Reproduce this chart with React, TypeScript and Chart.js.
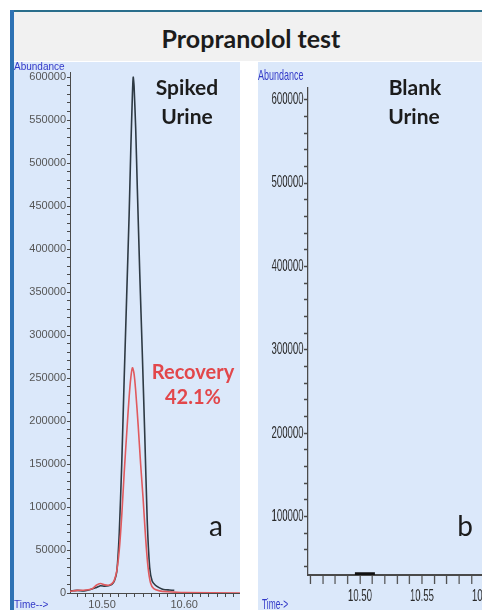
import React, { useEffect, useRef } from "react";
import { Chart, registerables } from "chart.js";

Chart.register(...registerables);

// ---- Panel a: spiked urine (black trace) ----
const spikedTime = [
  10.462, 10.47, 10.478, 10.486, 10.492, 10.498, 10.503, 10.508, 10.512, 10.515,
  10.518, 10.521, 10.524, 10.527, 10.53, 10.533, 10.535, 10.537, 10.538, 10.539,
  10.541, 10.543, 10.546, 10.549, 10.552, 10.555, 10.558, 10.561, 10.565, 10.57,
  10.575, 10.582, 10.588,
];
const spikedAbundance = [
  2500, 3000, 2500, 4000, 6000, 8500, 8000, 8500, 10000, 14000,
  25000, 70000, 150000, 250000, 345000, 440000, 515000, 580000, 600000, 590000,
  540000, 470000, 370000, 280000, 185000, 85000, 30000, 14000, 9000, 6000,
  4000, 3500, 3000,
];

// ---- Panel a: recovery (red trace) ----
const recoveryTime = [
  10.461, 10.47, 10.48, 10.488, 10.493, 10.498, 10.503, 10.508, 10.512, 10.515,
  10.518, 10.521, 10.524, 10.527, 10.53, 10.533, 10.535, 10.537, 10.539, 10.541,
  10.544, 10.547, 10.55, 10.553, 10.556, 10.559, 10.563, 10.57, 10.58, 10.6, 10.668,
];
const recoveryAbundance = [
  2000, 3000, 3500, 5000, 9000, 11000, 9500, 9000, 11000, 15000,
  26000, 50000, 90000, 140000, 185000, 228000, 250000, 262000, 255000, 235000,
  195000, 150000, 110000, 65000, 30000, 12000, 5000, 2500, 1500, 500, 0,
];

// ---- Panel b: blank urine ----
const blankTime = [10.496, 10.512];
const blankAbundance = [31500, 31500];

// ---- Tick labels ----
const spikedYLabels = [0, 50000, 100000, 150000, 200000, 250000, 300000, 350000, 400000, 450000, 500000, 550000, 600000];
const spikedTimeLabels = [10.5, 10.6];
const blankYLabels = [100000, 200000, 300000, 400000, 500000, 600000];
const blankTimeLabels = [10.5, 10.55, 10.6];

const PANEL_BG = "#dbe8fa";
const AXIS = "#4a4a4a";
const BLUE = "#3239c8";

function steps(from: number, to: number, step: number) {
  const out: number[] = [];
  const n = Math.round((to - from) / step);
  for (let i = 0; i <= n; i++) out.push(Math.round((from + i * step) * 1e6) / 1e6);
  return out;
}
const has = (list: number[], v: number) => list.some((x) => Math.abs(x - v) < 1e-7);
const pts = (xs: number[], ys: number[]) => xs.map((x, i) => ({ x, y: ys[i] }));

function leftConfig(): any {
  const font = { family: '"Liberation Sans", Arial, sans-serif', size: 11 };
  return {
    type: "scatter",
    data: {
      datasets: [
        {
          data: pts(recoveryTime, recoveryAbundance),
          showLine: true,
          borderColor: "#e05a5e",
          borderWidth: 1.6,
          pointRadius: 0,
          tension: 0.3,
        },
        {
          data: pts(spikedTime, spikedAbundance),
          showLine: true,
          borderColor: "#2e3a44",
          borderWidth: 1.6,
          pointRadius: 0,
          tension: 0.15,
        },
      ],
    },
    options: {
      animation: false,
      responsive: false,
      events: [],
      layout: { padding: { top: 10, left: 0, right: 0, bottom: 0 } },
      plugins: { legend: { display: false }, tooltip: { enabled: false } },
      scales: {
        x: {
          type: "linear",
          min: 10.461,
          max: 10.668,
          afterFit: (s: any) => { s.height = 17; },
          afterBuildTicks: (s: any) => { s.ticks = steps(10.47, 10.66, 0.01).map((value) => ({ value })); },
          ticks: {
            autoSkip: false, maxRotation: 0, minRotation: 0, padding: 1, color: "#555", font,
            callback: (v: number) => (has(spikedTimeLabels, v) ? v.toFixed(2) : ""),
          },
          grid: { drawOnChartArea: false, drawTicks: true, tickLength: 4, color: AXIS, tickColor: AXIS },
          border: { display: true, color: AXIS, width: 1 },
        },
        y: {
          type: "linear",
          min: 0,
          max: 606000,
          afterFit: (s: any) => { s.width = 56; },
          afterBuildTicks: (s: any) => { s.ticks = steps(0, 600000, 10000).map((value) => ({ value })); },
          ticks: {
            autoSkip: false, padding: 1, color: "#555", font,
            callback: (v: number) => (has(spikedYLabels, v) ? String(v) : ""),
          },
          grid: { drawOnChartArea: false, drawTicks: true, tickLength: 3, color: AXIS, tickColor: AXIS },
          border: { display: true, color: AXIS, width: 1 },
        },
      },
    },
  };
}

function rightConfig(): any {
  const font = { family: '"Liberation Sans", Arial, sans-serif', size: 16 };
  return {
    type: "scatter",
    data: {
      datasets: [
        {
          data: pts(blankTime, blankAbundance),
          showLine: true,
          borderColor: "#111",
          borderWidth: 3,
          pointRadius: 0,
        },
      ],
    },
    options: {
      animation: false,
      responsive: false,
      events: [],
      layout: { padding: { top: 26, left: 0, right: 0, bottom: 0 } },
      plugins: { legend: { display: false }, tooltip: { enabled: false } },
      scales: {
        x: {
          type: "linear",
          min: 10.4579,
          max: 10.6194,
          afterFit: (s: any) => { s.height = 35; },
          afterBuildTicks: (s: any) => { s.ticks = steps(10.46, 10.61, 0.01).map((value) => ({ value })); },
          ticks: {
            autoSkip: false, maxRotation: 0, minRotation: 0, padding: 3, color: "#2a2a2a", font,
            callback: (v: number) => (has(blankTimeLabels, v) ? v.toFixed(2) : ""),
          },
          grid: { drawOnChartArea: false, drawTicks: true, tickLength: 9, color: AXIS, tickColor: AXIS, tickWidth: 2 },
          border: { display: true, color: AXIS, width: 2 },
        },
        y: {
          type: "linear",
          min: 30000,
          max: 614000,
          afterFit: (s: any) => { s.width = 83; },
          afterBuildTicks: (s: any) => { s.ticks = steps(40000, 600000, 20000).map((value) => ({ value })); },
          ticks: {
            autoSkip: false, padding: 1, color: "#2a2a2a", font,
            callback: (v: number) => (has(blankYLabels, v) ? String(v) : ""),
          },
          grid: { drawOnChartArea: false, drawTicks: true, tickLength: 6, color: AXIS, tickColor: AXIS, tickWidth: 1.5 },
          border: { display: true, color: AXIS, width: 2 },
        },
      },
    },
  };
}

const LATO = 'Lato, "Open Sans", sans-serif';

function Word(props: { text: string; cx: number; baseline: number; size: number; bold?: boolean; color?: string }) {
  const { text, cx, baseline, size, bold, color } = props;
  return (
    <div
      style={{
        position: "absolute",
        left: cx - 120,
        width: 240,
        top: baseline - size * 0.987,
        lineHeight: `${size * 1.2}px`,
        fontSize: size,
        fontFamily: LATO,
        fontWeight: bold ? 700 : 400,
        color: color || "#1c1c1c",
        textAlign: "center",
        whiteSpace: "nowrap",
      }}
    >
      {text}
    </div>
  );
}

function Small(props: { text: string; left: number; top: number; size: number; squeeze?: number }) {
  const { text, left, top, size, squeeze } = props;
  return (
    <div
      style={{
        position: "absolute",
        left,
        top,
        fontSize: size,
        lineHeight: `${size}px`,
        fontFamily: '"Liberation Sans", Arial, sans-serif',
        color: BLUE,
        whiteSpace: "nowrap",
        transform: squeeze ? `scaleX(${squeeze})` : undefined,
        transformOrigin: "left top",
      }}
    >
      {text}
    </div>
  );
}

export default function App() {
  const leftRef = useRef<HTMLCanvasElement>(null);
  const rightRef = useRef<HTMLCanvasElement>(null);

  useEffect(() => {
    const charts: Chart[] = [];
    if (leftRef.current) charts.push(new Chart(leftRef.current, leftConfig()));
    if (rightRef.current) charts.push(new Chart(rightRef.current, rightConfig()));
    return () => charts.forEach((c) => c.destroy());
  }, []);

  return (
    <div
      style={{
        position: "fixed",
        left: 0,
        top: 0,
        width: 482,
        height: 610,
        overflow: "hidden",
        background: "#ffffff",
      }}
    >
      {/* frame */}
      <div style={{ position: "absolute", left: 10, top: 10, width: 472, height: 2, background: "#2a6e8c" }} />
      <div style={{ position: "absolute", left: 10, top: 10, width: 4, height: 600, background: "#2e72b4" }} />
      <div style={{ position: "absolute", left: 14, top: 12, width: 468, height: 49, background: "#f1f1f1" }} />
      <Word text="Propranolol test" cx={251} baseline={48} size={25} bold />

      <canvas
        ref={leftRef}
        width={226}
        height={548}
        style={{ position: "absolute", left: 14, top: 62, width: 226, height: 548, background: PANEL_BG }}
      />
      <canvas
        ref={rightRef}
        width={417}
        height={548}
        style={{ position: "absolute", left: 258, top: 62, width: 250, height: 548, background: PANEL_BG }}
      />

      <Small text="Abundance" left={14} top={62} size={10} />
      <Small text="Time-->" left={14} top={600} size={10} />
      <Small text="Abundance" left={258} top={67} size={15} squeeze={0.6} />
      <Small text="Time->" left={262} top={597} size={14} squeeze={0.6} />

      <Word text="Spiked" cx={187} baseline={95} size={21} bold />
      <Word text="Urine" cx={187} baseline={124} size={21} bold />
      <Word text="Recovery" cx={193} baseline={379} size={20} bold color="#e2474b" />
      <Word text="42.1%" cx={193} baseline={404} size={20} bold color="#e2474b" />
      <Word text="a" cx={216} baseline={537} size={28} />

      <Word text="Blank" cx={415} baseline={95} size={21} bold />
      <Word text="Urine" cx={414} baseline={124} size={21} bold />
      <Word text="b" cx={465} baseline={537} size={28} />
    </div>
  );
}
